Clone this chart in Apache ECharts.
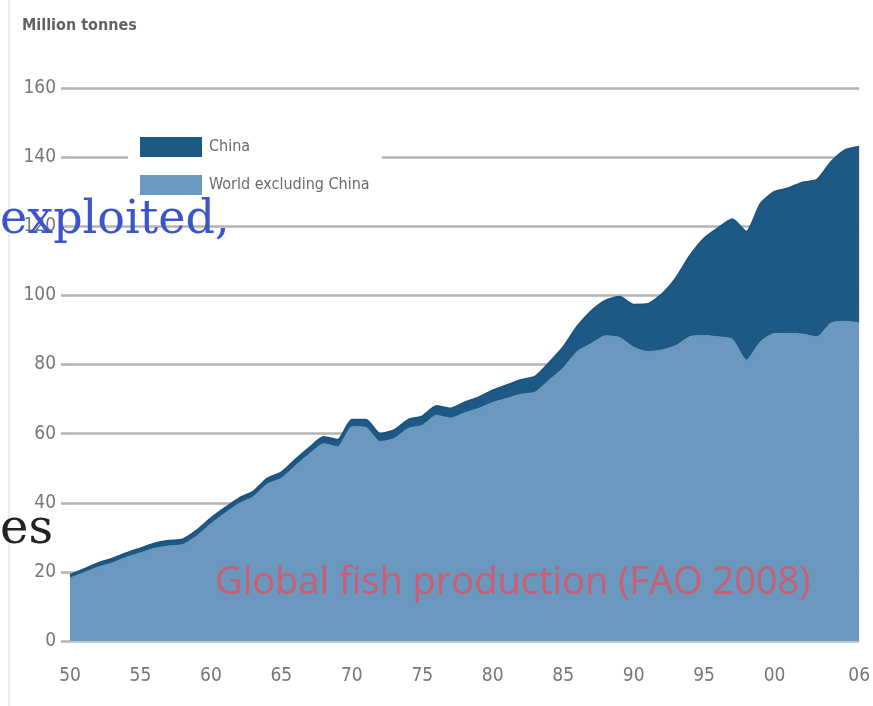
<!DOCTYPE html>
<html>
<head>
<meta charset="utf-8">
<script src="https://cdn.jsdelivr.net/npm/echarts@6/dist/echarts.min.js"></script>
<style>
html,body{margin:0;padding:0;background:#fff;}
#chart{width:873px;height:706px;}
</style>
</head>
<body>
<div id="chart"></div>
<script>
// Years 1950..2006
const years = [];
for (let y = 1950; y <= 2006; y++) years.push(String(y));

// World excluding China (million tonnes)
const worldExChina = [
  18.2, 19.8, 21.4, 22.6, 24.2, 25.5, 26.8, 27.5, 27.9, 30.4,
  33.9, 37.0, 39.8, 41.7, 45.4, 47.1, 50.7, 54.2, 57.1, 56.2,
  62.0, 61.8, 57.7, 58.6, 61.5, 62.4, 65.3, 64.5, 66.0, 67.3,
  69.0, 70.2, 71.4, 72.0, 75.5, 79.0, 83.8, 86.1, 88.3, 87.8,
  85.0, 83.7, 84.2, 85.5, 88.1, 88.4, 88.0, 87.3, 81.3, 86.6,
  89.0, 89.0, 88.8, 88.0, 92.0, 92.5, 92.1
];
// China (million tonnes)
const china = [
  0.9, 1.0, 1.1, 1.2, 1.2, 1.3, 1.4, 1.5, 1.5, 1.6,
  1.6, 1.5, 1.5, 1.5, 1.6, 1.7, 1.8, 1.8, 1.9, 2.0,
  2.0, 2.2, 2.3, 2.4, 2.5, 2.6, 2.7, 2.8, 3.0, 3.2,
  3.5, 3.8, 4.1, 4.5, 5.0, 6.0, 7.2, 9.4, 10.2, 11.8,
  12.3, 13.8, 16.1, 19.5, 23.4, 28.1, 31.5, 34.7, 37.1, 39.9,
  41.0, 42.0, 43.9, 45.4, 46.5, 49.5, 50.9
];
const yTicks = [0, 20, 40, 60, 80, 100, 120, 140, 160];
const xLabelYears = ['1950','1955','1960','1965','1970','1975','1980','1985','1990','1995','2000','2006'];

const NARROW = "'Liberation Sans Narrow','DejaVu Sans Condensed','Liberation Sans',sans-serif";

const chart = echarts.init(document.getElementById('chart'), null, {renderer: 'canvas'});
chart.setOption({
  animation: false,
  backgroundColor: '#ffffff',
  grid: {left: 70, right: 8, top: 88, bottom: 65, containLabel: false},
  legend: {
    data: ['China', 'World excluding China'],
    orient: 'vertical',
    left: 128, top: 129,
    backgroundColor: '#ffffff',
    padding: [8, 12, 8, 12],
    itemWidth: 62, itemHeight: 20, itemGap: 18,
    icon: 'rect',
    textStyle: {color: '#6a6a6a', fontSize: 16, fontFamily: NARROW, padding: [0, 0, 0, 2]},
    z: 10
  },
  xAxis: {
    type: 'category',
    data: years,
    boundaryGap: false,
    axisLine: {show: true, lineStyle: {color: '#c8c8c8', width: 1}},
    axisTick: {show: false},
    axisLabel: {
      color: '#777777', fontSize: 19, fontFamily: NARROW, margin: 26,
      interval: function (i, v) { return xLabelYears.indexOf(v) >= 0; },
      formatter: function (v) { return v.slice(2); }
    },
    splitLine: {show: false}
  },
  yAxis: {
    type: 'value',
    min: yTicks[0], max: yTicks[yTicks.length - 1], interval: 20,
    axisLine: {show: false},
    axisTick: {show: true, length: 9, lineStyle: {color: '#b4b4b4', width: 2.5}},
    axisLabel: {color: '#777777', fontSize: 19, fontFamily: NARROW, margin: 14},
    splitLine: {show: true, lineStyle: {color: '#b4b4b4', width: 2.5}}
  },
  graphic: [
    {type: 'line', shape: {x1: 9, y1: 0, x2: 9, y2: 706}, style: {stroke: '#eeeeee', lineWidth: 2}, z: 0},
    {type: 'text', left: 22, top: 18, style: {text: 'Million tonnes', fill: '#626262', font: "bold 16px " + NARROW}, z: 20},
    {type: 'text', left: 0, top: 198, style: {text: 'exploited,', fill: '#3a55cc', font: "46px 'DejaVu Serif','Liberation Serif',serif"}, z: 20},
    {type: 'text', left: 0, top: 507, style: {text: 'es', fill: '#222222', font: "48px 'DejaVu Serif','Liberation Serif',serif"}, z: 20},
    {type: 'text', left: 215, top: 564, style: {text: 'Global fish production (FAO 2008)', fill: 'rgba(228,80,95,0.8)', font: "38px 'Open Sans','Noto Sans',sans-serif"}, z: 20}
  ],
  series: [
    {
      name: 'World excluding China', type: 'line', stack: 'total', data: worldExChina,
      symbol: 'none', smooth: 0.2,
      lineStyle: {color: '#6595bc', width: 1},
      itemStyle: {color: '#6a98bf'},
      areaStyle: {color: '#6a98bf', opacity: 1},
      z: 3
    },
    {
      name: 'China', type: 'line', stack: 'total', data: china,
      symbol: 'none', smooth: 0.2,
      lineStyle: {color: '#1a5482', width: 2},
      itemStyle: {color: '#1d5985'},
      areaStyle: {color: '#1d5985', opacity: 1},
      z: 2
    }
  ]
});
</script>
</body>
</html>
